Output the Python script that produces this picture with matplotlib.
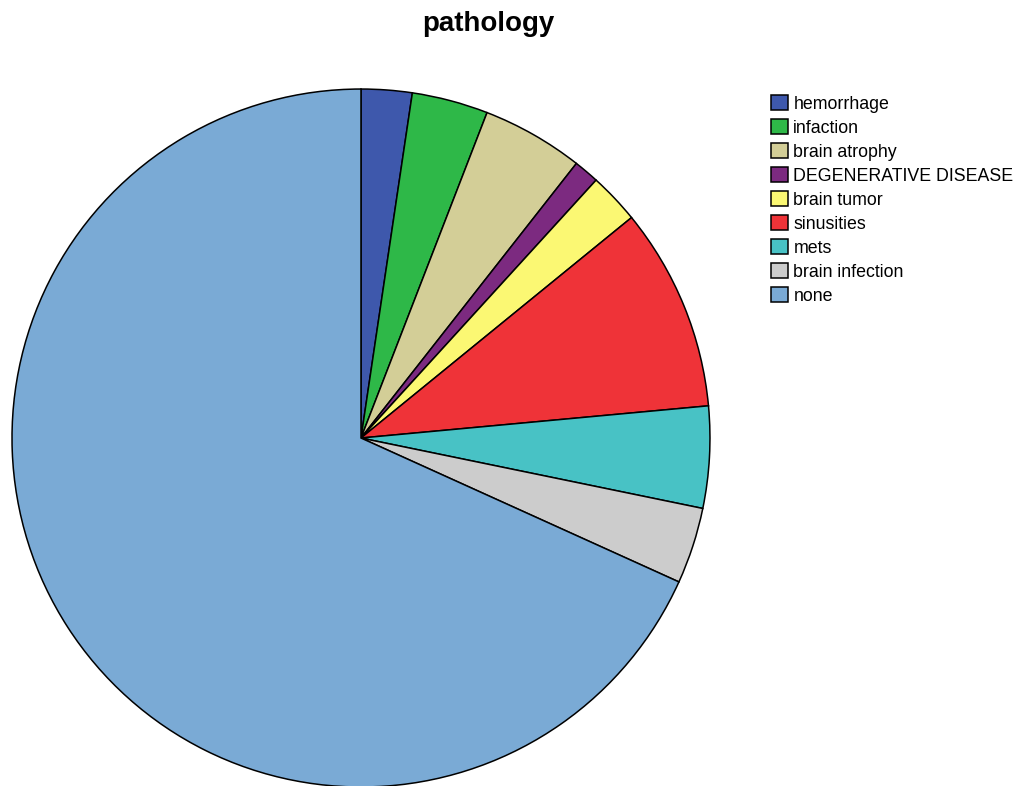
import matplotlib
matplotlib.use("Agg")
import matplotlib.pyplot as plt

plt.rcParams['font.family'] = ['Liberation Sans', 'DejaVu Sans']

labels = ["hemorrhage", "infaction", "brain atrophy", "DEGENERATIVE DISEASE",
          "brain tumor", "sinusities", "mets", "brain infection", "none"]
counts = [2, 3, 4, 1, 2, 8, 4, 3, 58]
colors = ["#3E58AC", "#2EB848", "#D3CE97", "#7C2A80", "#FBF873",
          "#EF3338", "#48C2C5", "#CCCCCC", "#7AAAD5"]

fig = plt.figure(figsize=(10.2, 7.86), dpi=100)
ax = fig.add_axes([0.01176, -0.00127, 0.6843, 0.888])

wedges, _ = ax.pie(counts, colors=colors, startangle=90, counterclock=False,
                   radius=1, wedgeprops=dict(edgecolor="black", linewidth=1.1))
ax.set_xlim(-1, 1)
ax.set_ylim(-1, 1)
ax.set_aspect("equal")
ax.axis("off")

fig.text(0.479, 0.970, "pathology", ha="center", va="center",
         fontsize=20, fontweight="bold")

leg = fig.legend(wedges, labels, loc="upper left", bbox_to_anchor=(0.756, 0.879),
                 frameon=False, fontsize=12.8, handlelength=0.95, handleheight=0.95,
                 handletextpad=0.3, labelspacing=0.35, borderaxespad=0, borderpad=0)

fig.savefig("out.png", dpi=100)
